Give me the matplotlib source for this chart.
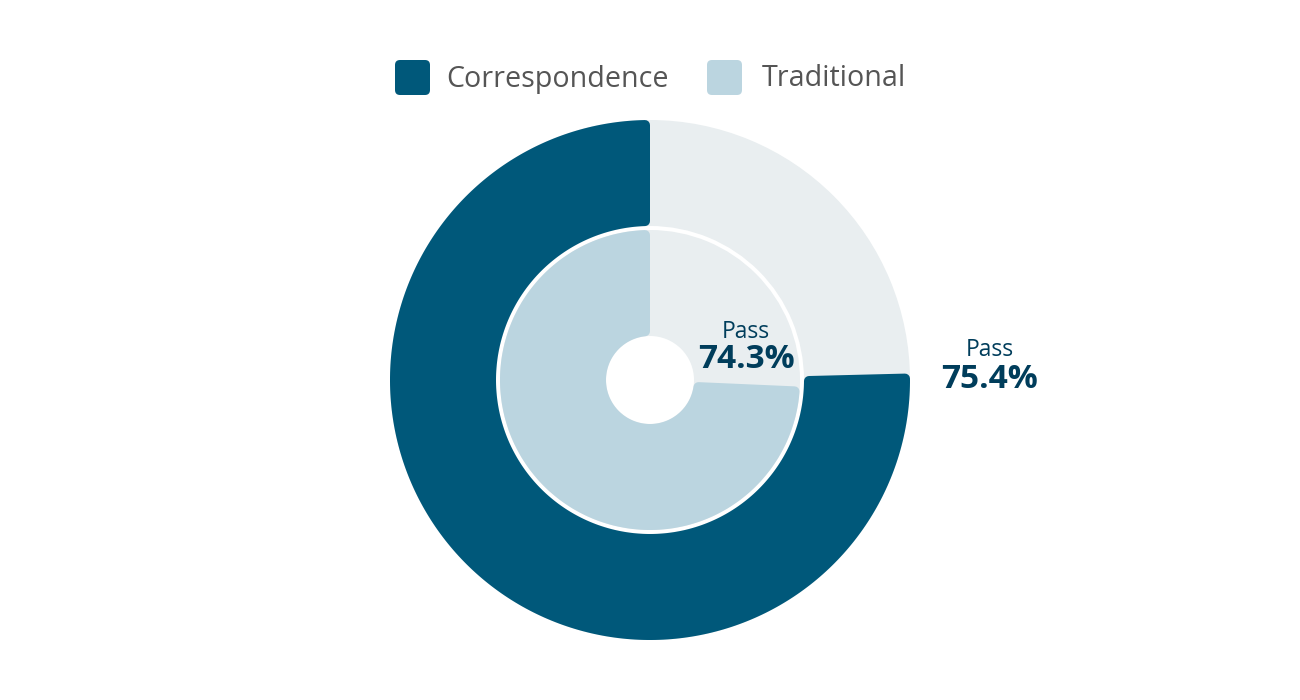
import numpy as np
import matplotlib
matplotlib.use("Agg")
import matplotlib.pyplot as plt
from matplotlib.patches import Polygon, FancyBboxPatch, Wedge

plt.rcParams["font.family"] = ["Open Sans", "DejaVu Sans"]

# data
groups = ["Correspondence", "Traditional"]
pass_pct = [75.4, 74.3]
label_word = "Pass"

# style
dark = "#00587a"
light = "#bbd5e0"
rest = "#e9eef0"
label_col = "#003d5b"
legend_col = "#555555"

W, H = 1300, 700
cx, cy = 650, 380
rings = [(154, 260), (44, 150)]  # (inner, outer) radius, outer ring first
colors = [dark, light]
corner = 5


def sector_points(r_in, r_out, t1, t2, d):
    """Shrunk annular sector (angles in deg, ccw from 3 o'clock) so that a
    round-joined stroke of width 2d gives rounded corners."""
    ro, ri = r_out - d, r_in + d
    ao, ai = np.degrees(np.arcsin(d / ro)), np.degrees(np.arcsin(d / ri))
    to = np.radians(np.linspace(t1 + ao, t2 - ao, 300))
    ti = np.radians(np.linspace(t2 - ai, t1 + ai, 300))
    xs = np.r_[ro * np.cos(to), ri * np.cos(ti)]
    ys = np.r_[ro * np.sin(to), ri * np.sin(ti)]
    return np.c_[cx + xs, cy - ys]


fig = plt.figure(figsize=(W / 100, H / 100), dpi=100)
ax = fig.add_axes([0, 0, 1, 1])
ax.set_xlim(0, W)
ax.set_ylim(H, 0)
ax.set_aspect("equal")
ax.axis("off")

lw_pt = 2 * corner * 72 / 100
for (r_in, r_out), col, pct in zip(rings, colors, pass_pct):
    # background ring, then the pass share ccw from 12 o'clock
    ax.add_patch(Wedge((cx, cy), r_out, 0, 360, width=r_out - r_in,
                       facecolor=rest, edgecolor="none"))
    sweep = 360 * pct / 100
    pts = sector_points(r_in, r_out, 90, 90 + sweep, corner)
    ax.add_patch(Polygon(pts, closed=True, facecolor=col, edgecolor=col,
                         linewidth=lw_pt, joinstyle="round"))

# labels
ax.text(990, 350, label_word, ha="center", va="center", fontsize=16.5,
        color=label_col)
ax.text(990, 380, f"{pass_pct[0]}%", ha="center", va="center", fontsize=24,
        fontweight="bold", color=label_col)
ax.text(746, 332, label_word, ha="center", va="center", fontsize=16.5,
        color=label_col)
ax.text(746, 360, f"{pass_pct[1]}%", ha="center", va="center", fontsize=24,
        fontweight="bold", color=label_col)

# legend
leg_x = [395, 707]
text_gap = [51, 55]
for x, gap, name, col in zip(leg_x, text_gap, groups, colors):
    ax.add_patch(FancyBboxPatch((x + 5, 65), 25, 25,
                                boxstyle="round,pad=5", facecolor=col,
                                edgecolor="none"))
    ax.text(x + gap, 79, name, ha="left", va="center", fontsize=20.6,
            color=legend_col)

fig.savefig("out.png", dpi=100, facecolor="white")
